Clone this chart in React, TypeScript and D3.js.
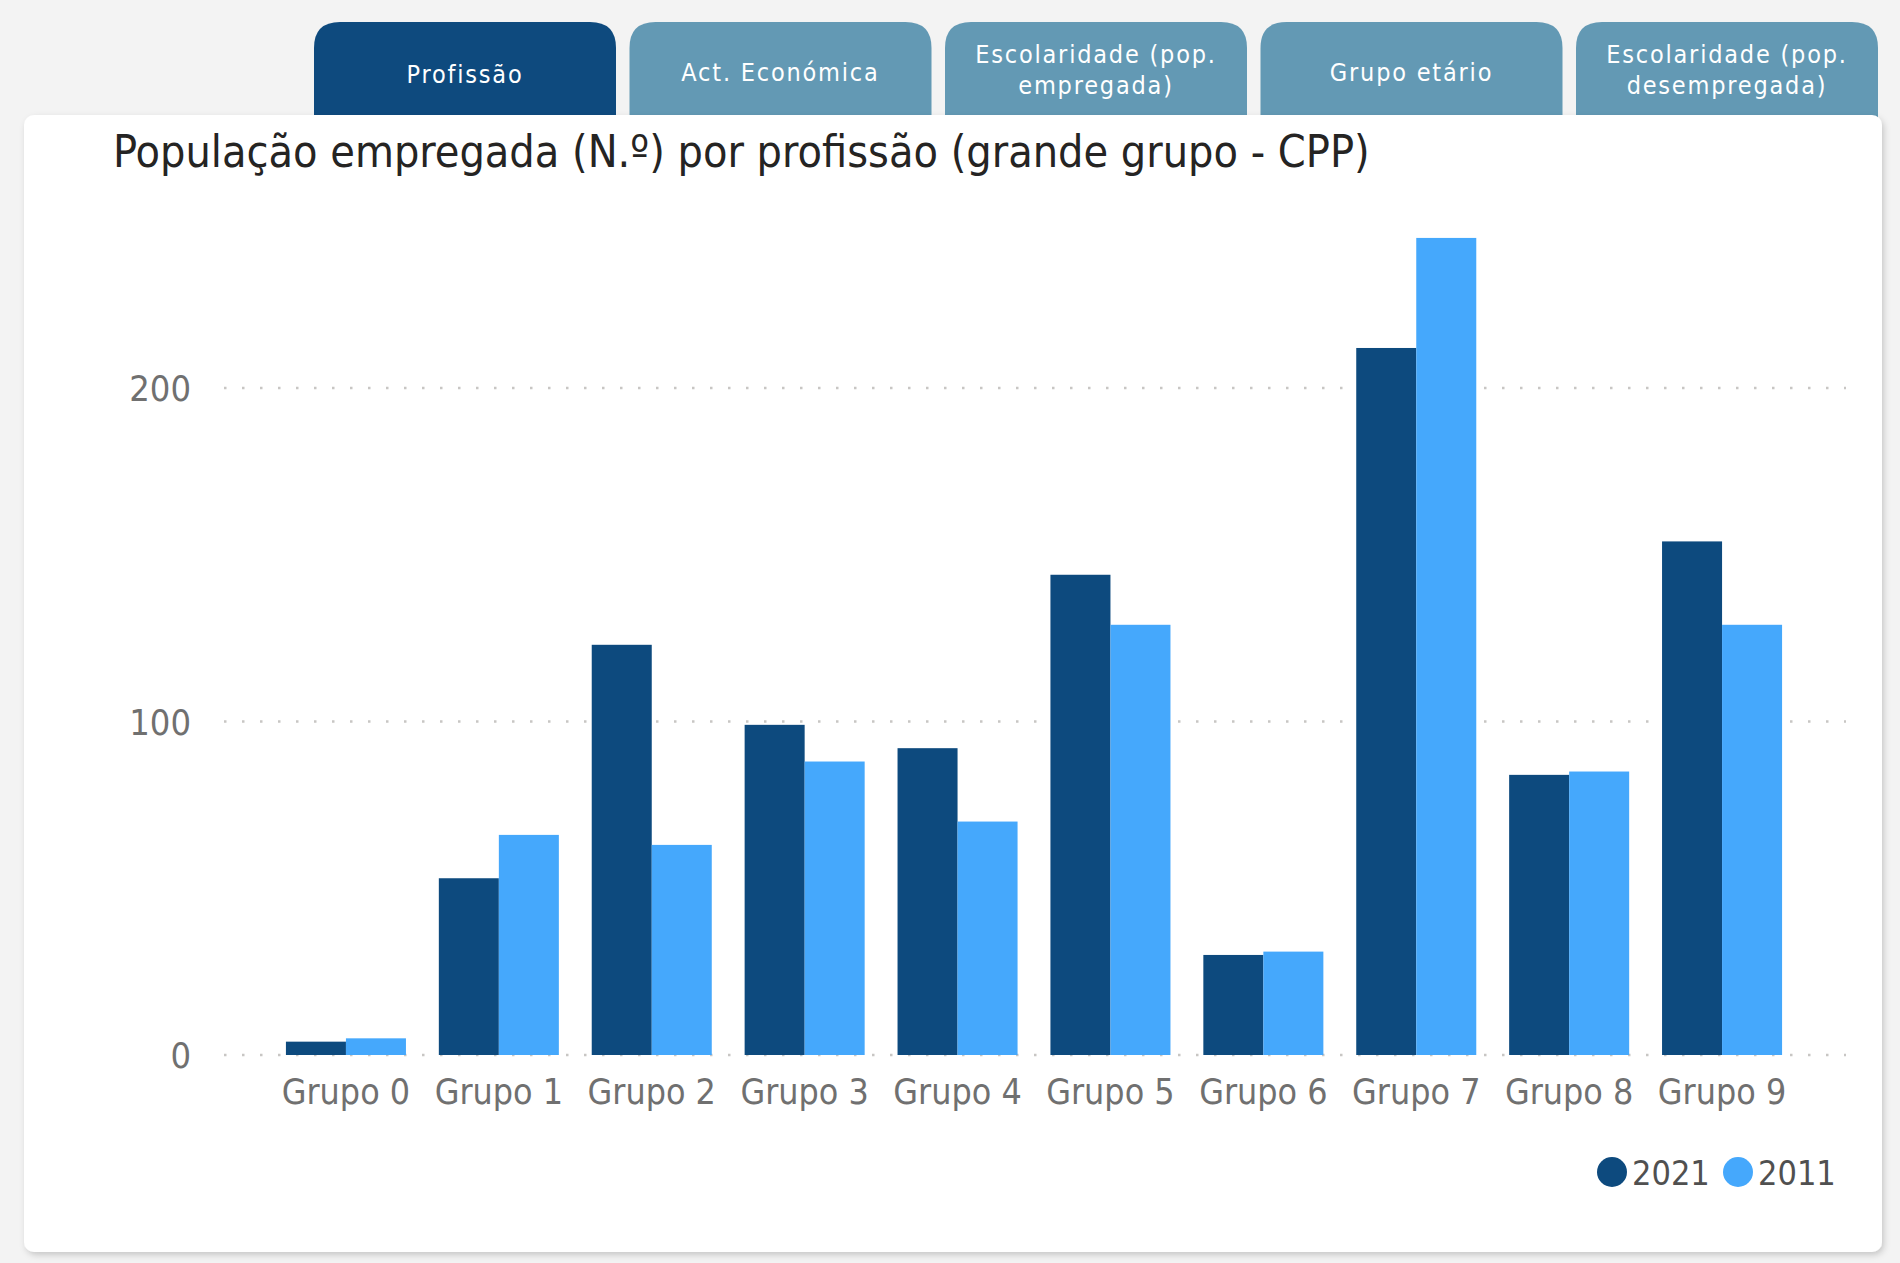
import * as React from 'react';
import {useEffect, useRef} from 'react';
import * as d3 from 'd3';

const categories = ['Grupo 0', 'Grupo 1', 'Grupo 2', 'Grupo 3', 'Grupo 4', 'Grupo 5', 'Grupo 6', 'Grupo 7', 'Grupo 8', 'Grupo 9'];
const values2021 = [4, 53, 123, 99, 92, 144, 30, 212, 84, 154];
const values2011 = [5, 66, 63, 88, 70, 129, 31, 245, 85, 129];
const seriesNames = ['2021', '2011'];
const yTicks = [0, 100, 200];
const tabLabels = [['Profissão'], ['Act. Económica'], ['Escolaridade (pop.', 'empregada)'], ['Grupo etário'], ['Escolaridade (pop.', 'desempregada)']];

const W = 1900;
const H = 1263;
const FONT = "'Liberation Sans Narrow', 'DejaVu Sans Condensed', 'Roboto Condensed', sans-serif";
const colors = ['#0d4a7e', '#45a8fc'];

const App = () => {
    const chartRef = useRef(null);

    useEffect(() => {
        const svg = d3.select(chartRef.current);
        svg.selectAll('*').remove();

        svg.append('rect').attr('width', W).attr('height', H).attr('fill', '#f3f3f3');

        const defs = svg.append('defs');
        const f = defs.append('filter').attr('id', 'shadow').attr('x', '-5%').attr('y', '-5%').attr('width', '110%').attr('height', '110%');
        f.append('feDropShadow').attr('dx', 2).attr('dy', 3).attr('stdDeviation', 3).attr('flood-color', '#000').attr('flood-opacity', 0.18);

        // tabs
        const tabX = d3.scaleLinear().domain([0, 1]).range([314, 629.5]);
        const tabW = 302;
        tabLabels.forEach((lines, i) => {
            const x = tabX(i);
            const top = 22, bottom = 118, r = 26;
            const active = i === 0;
            svg.append('path')
                .attr('d', `M${x},${bottom} L${x},${top + r} Q${x},${top} ${x + r},${top} L${x + tabW - r},${top} Q${x + tabW},${top} ${x + tabW},${top + r} L${x + tabW},${bottom} Z`)
                .attr('fill', active ? '#0e4a7e' : '#6399b4');
            const t = svg.append('text')
                .attr('x', x + tabW / 2)
                .attr('text-anchor', 'middle')
                .attr('fill', '#fff')
                .style('font-family', FONT)
                .style('font-size', '25px')
                .style('letter-spacing', '1.8px');
            if (lines.length === 1) {
                t.append('tspan').attr('x', x + tabW / 2).attr('y', active ? 83 : 81).text(lines[0]);
            } else {
                t.append('tspan').attr('x', x + tabW / 2).attr('y', 63).text(lines[0]);
                t.append('tspan').attr('x', x + tabW / 2).attr('y', 94).text(lines[1]);
            }
        });

        // card
        svg.append('rect')
            .attr('x', 24).attr('y', 115).attr('width', 1858).attr('height', 1137)
            .attr('rx', 10).attr('fill', '#fff')
            .attr('filter', 'url(#shadow)');

        svg.append('text')
            .attr('x', 113).attr('y', 167)
            .attr('fill', '#252423')
            .style('font-family', FONT)
            .style('font-size', '44.5px')
            .text('População empregada (N.º) por profissão (grande grupo - CPP)');

        const yScale = d3.scaleLinear().domain([0, 200]).range([1055, 388]);
        const xScale = d3.scaleBand().domain(categories).range([224, 1844]).paddingInner(0.215).paddingOuter(0.405);
        const xSub = d3.scaleBand().domain(seriesNames).range([0, xScale.bandwidth()]);

        // gridlines
        svg.append('g')
            .selectAll('line')
            .data(yTicks)
            .enter()
            .append('line')
            .attr('x1', 224).attr('x2', 1846)
            .attr('y1', d => yScale(d)).attr('y2', d => yScale(d))
            .attr('stroke', '#c8c6c4')
            .attr('stroke-width', 2.5)
            .attr('stroke-dasharray', '2.5 15.5');

        const yAxis = svg.append('g')
            .attr('transform', 'translate(191,0)')
            .call(d3.axisLeft(yScale).tickValues(yTicks).tickSize(0).tickPadding(0));
        yAxis.select('.domain').remove();
        yAxis.selectAll('text')
            .attr('fill', '#707070')
            .attr('dy', '0.36em')
            .style('font-family', FONT)
            .style('font-size', '36px')
            .style('font-weight', '300');

        const rows = categories.map((c, i) => ({cat: c, vals: [values2021[i], values2011[i]]}));
        const groups = svg.append('g')
            .selectAll('g')
            .data(rows)
            .enter()
            .append('g')
            .attr('transform', d => `translate(${xScale(d.cat)},0)`);
        groups.selectAll('rect')
            .data(d => d.vals.map((v, j) => ({name: seriesNames[j], v, j})))
            .enter()
            .append('rect')
            .attr('x', d => xSub(d.name))
            .attr('y', d => yScale(d.v))
            .attr('width', xSub.bandwidth())
            .attr('height', d => yScale(0) - yScale(d.v))
            .attr('fill', d => colors[d.j]);

        const xAxis = svg.append('g')
            .attr('transform', 'translate(0,1055)')
            .call(d3.axisBottom(xScale).tickSize(0).tickPadding(0));
        xAxis.select('.domain').remove();
        xAxis.selectAll('text')
            .attr('y', 49)
            .attr('dy', 0)
            .attr('fill', '#707070')
            .style('font-family', FONT)
            .style('font-size', '35.5px')
            .style('font-weight', '300');

        // legend
        const legendX = [1612, 1738];
        seriesNames.forEach((name, i) => {
            svg.append('circle').attr('cx', legendX[i]).attr('cy', 1172).attr('r', 15).attr('fill', colors[i]);
            svg.append('text')
                .attr('x', legendX[i] + 20).attr('y', 1185)
                .attr('fill', '#505050')
                .style('font-family', FONT)
                .style('font-size', '34px')
                .text(name);
        });
    }, []);

    return (
        <>
            <style>{'body{margin:0}'}</style>
            <svg ref={chartRef} width={W} height={H} style={{display: 'block'}}></svg>
        </>
    );
};

export default App;
